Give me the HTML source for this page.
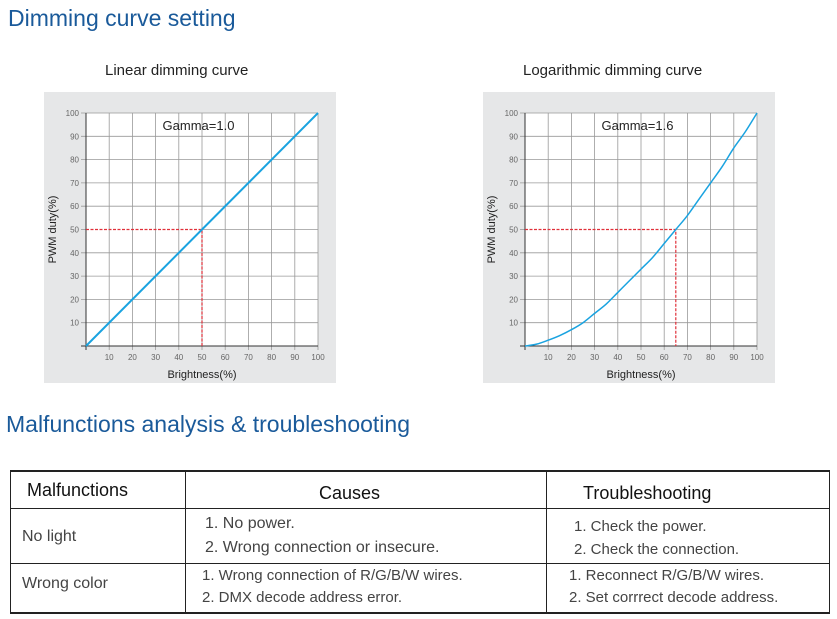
<!DOCTYPE html>
<html><head><meta charset="utf-8"><style>
body{margin:0;width:837px;height:619px;background:#fff;position:relative;font-family:"Liberation Sans",sans-serif;overflow:hidden}
.abs{position:absolute;white-space:nowrap}
h2{position:absolute;margin:0;font-weight:normal;color:#1a5a9a;font-size:23px}
.t{position:absolute;font-size:15px;color:#222}
.cell{position:absolute;color:#444;font-size:15px;white-space:nowrap}
.ln{position:absolute;background:#222}
</style></head><body>
<h2 style="left:8px;top:5px">Dimming curve setting</h2>
<div class="t" style="left:105px;top:62px">Linear dimming curve</div>
<div class="t" style="left:523px;top:62px">Logarithmic dimming curve</div>
<svg id="c1" class="abs" style="left:44px;top:92px" width="292" height="291"></svg>
<svg id="c2" class="abs" style="left:483px;top:92px" width="292" height="291"></svg>
<h2 style="left:6px;top:411px">Malfunctions analysis &amp; troubleshooting</h2>
<div>
<div class="ln" style="left:10px;top:470px;width:820px;height:1.5px"></div>
<div class="ln" style="left:10px;top:508px;width:820px;height:1px"></div>
<div class="ln" style="left:10px;top:563px;width:820px;height:1px"></div>
<div class="ln" style="left:10px;top:612px;width:820px;height:1.5px"></div>
<div class="ln" style="left:10px;top:470px;width:1px;height:143px"></div>
<div class="ln" style="left:185px;top:470px;width:1px;height:143px"></div>
<div class="ln" style="left:546px;top:470px;width:1px;height:143px"></div>
<div class="ln" style="left:829px;top:470px;width:1px;height:143px"></div>
<div class="cell" style="left:27px;top:480px;font-size:18px;color:#111">Malfunctions</div>
<div class="cell" style="left:319px;top:483px;font-size:18px;color:#111">Causes</div>
<div class="cell" style="left:583px;top:483px;font-size:18px;color:#111">Troubleshooting</div>
<div class="cell" style="left:22px;top:528px;font-size:16px">No light</div>
<div class="cell" style="left:205px;top:515px;font-size:16px">1. No power.</div>
<div class="cell" style="left:205px;top:539px;font-size:16px">2. Wrong connection or insecure.</div>
<div class="cell" style="left:574px;top:518px">1. Check the power.</div>
<div class="cell" style="left:574px;top:541px">2. Check the connection.</div>
<div class="cell" style="left:22px;top:575px;font-size:16px">Wrong color</div>
<div class="cell" style="left:202px;top:567px">1. Wrong connection of R/G/B/W wires.</div>
<div class="cell" style="left:202px;top:589px">2. DMX decode address error.</div>
<div class="cell" style="left:569px;top:567px">1. Reconnect R/G/B/W wires.</div>
<div class="cell" style="left:569px;top:589px">2. Set corrrect decode address.</div>
</div>
<script>
const xTicks=[10,20,30,40,50,60,70,80,90,100];
const yTicks=[10,20,30,40,50,60,70,80,90,100];
const linX=[0,100];
const linY=[0,100];
const logX=[0,5,10,15,20,25,30,35,40,45,50,55,60,65,70,75,80,85,90,95,100];
const logY=[0,0.8,2.5,4.5,7,10,14,18,23,28,33,38,44,50,56,63,70,77,85,92,100];
const linMark=[50,50];
const logMark=[65,50];
const NS="http://www.w3.org/2000/svg";
function draw(id,xs,ys,mark,gamma,px0){
  const s=document.getElementById(id);
  const L=px0,R=px0+232,T=21,B=254;
  const sx=v=>L+(R-L)*v/100, sy=v=>B-(B-T)*v/100;
  function el(tag,a,p){const e=document.createElementNS(NS,tag);for(const k in a)e.setAttribute(k,a[k]);(p||s).appendChild(e);return e;}
  el('rect',{x:0,y:0,width:292,height:291,fill:'#e6e7e8'});
  el('rect',{x:L,y:T,width:R-L,height:B-T,fill:'#fff'});
  xTicks.forEach(v=>{const g=el('line',{x1:sx(v),x2:sx(v),y1:T,y2:B+4,stroke:'#999','stroke-width':0.8});
    
    const t=el('text',{x:sx(v),y:B+14,'font-size':8,fill:'#666','text-anchor':'middle'});t.textContent=v;
    });
  yTicks.forEach(v=>{
    if(v!==mark[1]){const g=el('line',{x1:L-5,x2:R,y1:sy(v),y2:sy(v),stroke:'#999','stroke-width':0.8});
    }
    else{const g=el('line',{x1:sx(mark[0]),x2:R,y1:sy(v),y2:sy(v),stroke:'#999','stroke-width':0.8});
    
    const tk=el('line',{x1:L-5,x2:L,y1:sy(v),y2:sy(v),stroke:'#999','stroke-width':0.8});
    }
    const t=el('text',{x:L-7,y:sy(v)+3,'font-size':8,fill:'#666','text-anchor':'end'});t.textContent=v;
    });
  el('line',{x1:L,x2:L,y1:T,y2:B+4,stroke:'#333','stroke-width':1});
  el('line',{x1:L-5,x2:R,y1:B,y2:B,stroke:'#333','stroke-width':1});
  const m=el('path',{d:`M${L},${sy(mark[1])}H${sx(mark[0])}V${B}`,fill:'none',stroke:'#e0303a','stroke-width':1.2,'stroke-dasharray':'3,1.5'});
  
  const P=xs.map((x,i)=>[sx(x),sy(ys[i])]);
  let d='M'+P[0][0]+','+P[0][1];
  for(let i=0;i<P.length-1;i++){
    const p0=P[Math.max(0,i-1)],p1=P[i],p2=P[i+1],p3=P[Math.min(P.length-1,i+2)];
    const c1=[p1[0]+(p2[0]-p0[0])/6,p1[1]+(p2[1]-p0[1])/6],c2=[p2[0]-(p3[0]-p1[0])/6,p2[1]-(p3[1]-p1[1])/6];
    d+=`C${c1[0]},${c1[1]} ${c2[0]},${c2[1]} ${p2[0]},${p2[1]}`;
  }
  const p=el('path',{d:d,fill:'none',stroke:'#1aa3e0','stroke-width':id==='c1'?2:1.5});
  
  const g=el('text',{x:L+(R-L)*0.33,y:T+17,'font-size':13,fill:'#222'});g.textContent=gamma;
  
  const xt=el('text',{x:(L+R)/2,y:B+32,'font-size':11,fill:'#222','text-anchor':'middle'});xt.textContent='Brightness(%)';
  
  const yt=el('text',{x:0,y:0,'font-size':11,fill:'#222','text-anchor':'middle',transform:`translate(${L-30},${(T+B)/2}) rotate(-90)`});yt.textContent='PWM duty(%)';
  
}
draw('c1',linX,linY,linMark,'Gamma=1.0',42);
draw('c2',logX,logY,logMark,'Gamma=1.6',42);
</script>
</body></html>
